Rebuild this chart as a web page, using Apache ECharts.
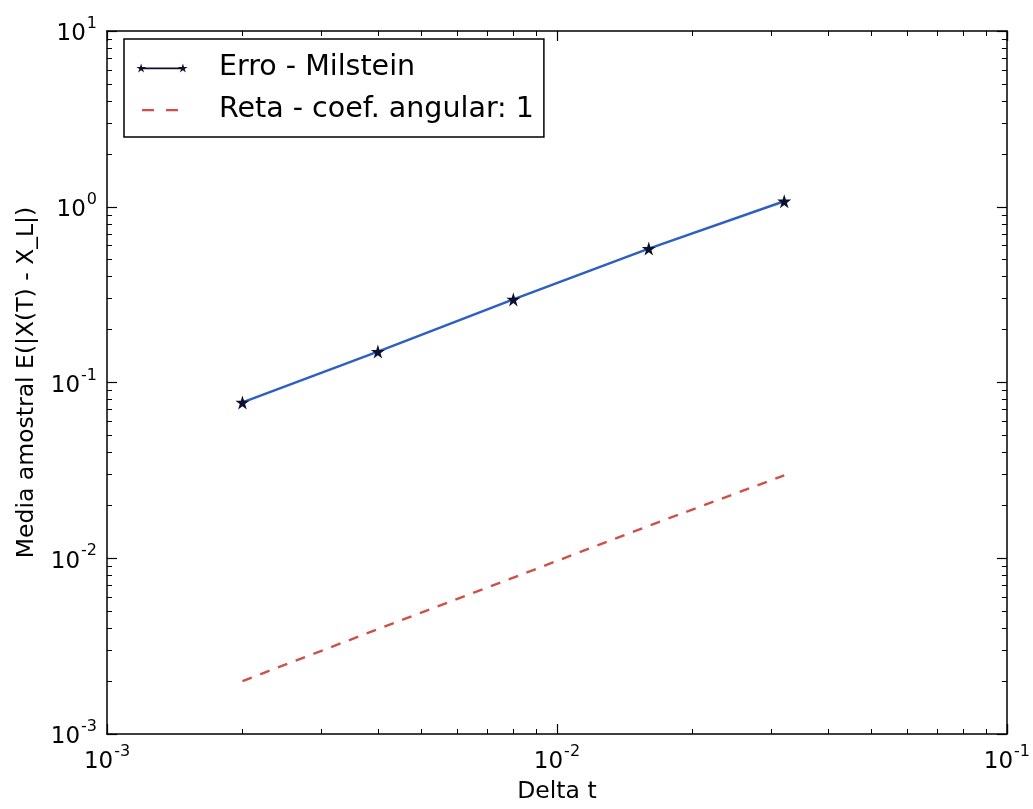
<!DOCTYPE html>
<html>
<head>
<meta charset="utf-8">
<script src="https://cdn.jsdelivr.net/npm/echarts@6/dist/echarts.min.js"></script>
<style>
html,body{margin:0;padding:0;background:#fff;}
#chart{width:1033px;height:809px;}
</style>
</head>
<body>
<div id="chart"></div>
<script>
// ---- data ----
const deltaT = [0.002, 0.004, 0.008, 0.016, 0.032];
const erroMilstein = [0.077, 0.15, 0.297, 0.578, 1.075];
const retaCoef1 = [0.002, 0.00395, 0.00776, 0.0153, 0.0296];
const seriesNames = ['Erro - Milstein', 'Reta - coef. angular: 1'];
const xAxisName = 'Delta t';
const yAxisName = 'Media amostral E(|X(T) - X_L|)';
const xRange = [0.001, 0.1];
const yRange = [0.001, 10];

const FONT = 'DejaVu Sans';
const STAR = 'path://M100 0 L122.34 69.26 L195.11 69.1 L136.14 111.74 L158.78 180.9 L100 138 L41.22 180.9 L63.86 111.74 L4.89 69.1 L77.66 69.26 Z';
const LEGEND_STARS = 'path://M50 0 L61.17 34.63 L97.55 34.55 L68.07 55.87 L79.39 90.45 L50 69 L20.61 90.45 L31.93 55.87 L2.45 34.55 L38.83 34.63 Z ' +
  'M470 0 L481.17 34.63 L517.55 34.55 L488.07 55.87 L499.39 90.45 L470 69 L440.61 90.45 L451.93 55.87 L422.45 34.55 L458.83 34.63 Z ' +
  'M50 40 L470 40 L470 57 L50 57 Z';
const LEGEND_DASH = 'path://M0 0 Z M520 90 Z M60 34 L180 34 L180 57 L60 57 Z M300 34 L420 34 L420 57 L300 57 Z';

function pow10Label(v) {
  const e = Math.round(Math.log10(v));
  return '{b|10}{s|' + (e < 0 ? '-' : '') + Math.abs(e) + '}';
}
const richLabel = {
  b: {fontSize: 23, fontFamily: FONT, color: '#000', lineHeight: 30, verticalAlign: 'bottom'},
  s: {fontSize: 16, fontFamily: FONT, color: '#000', lineHeight: 30, verticalAlign: 'top', padding: [0, 0, 0, 1]}
};
const axisLineStyle = {color: '#000', width: 1.5};

function logAxis(range, position, showLabel, extra) {
  return Object.assign({
    type: 'log',
    logBase: 10,
    min: range[0],
    max: range[1],
    position: position,
    axisLine: {show: true, onZero: false, lineStyle: axisLineStyle},
    axisTick: {show: true, inside: true, length: 10, lineStyle: {color: '#000', width: 1.2}},
    minorTick: {show: true, splitNumber: 9, length: 5, lineStyle: {color: '#000', width: 1}},
    splitLine: {show: false},
    minorSplitLine: {show: false},
    axisLabel: showLabel ? {show: true, formatter: pow10Label, rich: richLabel, margin: 10} : {show: false}
  }, extra || {});
}

const chart = echarts.init(document.getElementById('chart'), null, {renderer: 'canvas'});
chart.setOption({
  backgroundColor: '#fff',
  animation: false,
  grid: {left: 107, right: 16, top: 31, bottom: 74, containLabel: false},
  xAxis: [
    logAxis(xRange, 'bottom', true, {
      name: xAxisName, nameLocation: 'middle', nameGap: 46,
      nameTextStyle: {fontSize: 23.5, fontFamily: FONT, color: '#000'}
    }),
    logAxis(xRange, 'top', false)
  ],
  yAxis: [
    logAxis(yRange, 'left', true, {
      name: yAxisName, nameLocation: 'middle', nameGap: 68, nameRotate: 90,
      nameTextStyle: {fontSize: 23.5, fontFamily: FONT, color: '#000'}
    }),
    logAxis(yRange, 'right', false)
  ],
  legend: {
    orient: 'vertical',
    left: 124,
    top: 39,
    padding: [13, 10, 11, 12],
    itemGap: 10,
    itemWidth: 52,
    itemHeight: 9,
    borderColor: '#000',
    borderWidth: 1.5,
    borderRadius: 0,
    backgroundColor: '#fff',
    textStyle: {fontSize: 28.5, fontFamily: FONT, color: '#000', lineHeight: 32, padding: [0, 0, 0, 26]},
    data: [
      {name: seriesNames[0], icon: LEGEND_STARS},
      {name: seriesNames[1], icon: LEGEND_DASH}
    ]
  },
  series: [
    {
      name: seriesNames[0],
      type: 'line',
      xAxisIndex: 0,
      yAxisIndex: 0,
      data: deltaT.map((d, i) => [d, erroMilstein[i]]),
      symbol: STAR,
      symbolSize: 14,
      showSymbol: true,
      itemStyle: {color: '#0d1130'},
      lineStyle: {color: '#2e5fc2', width: 2.5},
      z: 3
    },
    {
      name: seriesNames[1],
      type: 'line',
      xAxisIndex: 0,
      yAxisIndex: 0,
      data: deltaT.map((d, i) => [d, retaCoef1[i]]),
      symbol: 'none',
      itemStyle: {color: '#cf5048'},
      lineStyle: {color: '#cf5048', width: 2.4, type: [10, 9]},
      z: 2
    }
  ]
});
</script>
</body>
</html>
